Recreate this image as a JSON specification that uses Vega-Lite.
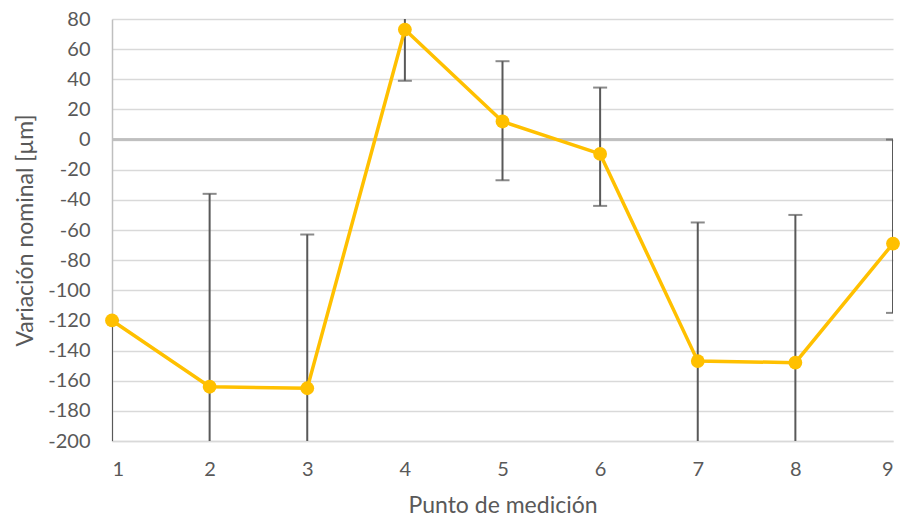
{
  "$schema": "https://vega.github.io/schema/vega-lite/v6.json",
  "width": 781,
  "height": 422,
  "autosize": {"type": "none"},
  "padding": {"left": 112, "top": 19, "right": 7, "bottom": 84},
  "background": "white",
  "config": {
    "view": {"stroke": null},
    "font": "Lato",
    "axis": {"labelColor": "#595959", "titleColor": "#595959", "labelFont": "Lato", "titleFont": "Lato", "titleFontWeight": "normal", "labelOverlap": false},
    "axisY": {
      "values": [-200,-180,-160,-140,-120,-100,-80,-60,-40,-20,0,20,40,60,80],
      "labelExpr": "'' + datum.value", "labelOverlap": false, "labelBound": false,
      "grid": true, "gridColor": "#d9d9d9", "gridWidth": 1.5, "ticks": false,
      "domain": true, "domainColor": "#bfbfbf", "domainWidth": 1.5,
      "labelFontSize": 20, "labelPadding": 22, "titleFontSize": 23, "titlePadding": 10
    }
  },
  "data": {
    "values": [
      {"p": 1, "v": -120, "lo": -300, "hi": -120},
      {"p": 2, "v": -164, "lo": -292, "hi": -36},
      {"p": 3, "v": -165, "lo": -267, "hi": -63},
      {"p": 4, "v": 73, "lo": 39, "hi": 107},
      {"p": 5, "v": 12, "lo": -27, "hi": 52},
      {"p": 6, "v": -9.5, "lo": -44, "hi": 34.5},
      {"p": 7, "v": -147, "lo": -239, "hi": -55},
      {"p": 8, "v": -148, "lo": -246, "hi": -50},
      {"p": 9, "v": -69, "lo": -115, "hi": 0}
    ]
  },
  "encoding": {
    "x": {
      "field": "p", "type": "quantitative",
      "scale": {"domain": [1, 9], "nice": false, "zero": false},
      "axis": {
        "title": "Punto de medición", "values": [1,2,3,4,5,6,7,8,9], "format": "d",
        "grid": false, "ticks": false, "domain": true, "domainColor": "#d9d9d9", "domainWidth": 1.5,
        "labelFontSize": 20, "labelPadding": 18, "labelOverlap": false, "titleFontSize": 23, "titlePadding": 15
      }
    }
  },
  "layer": [
    {
      "mark": {"type": "rule", "color": "#bfbfbf", "strokeWidth": 1.5},
      "encoding": {
        "x": null,
        "y": {"datum": 0, "type": "quantitative",
          "scale": {"domain": [-200, 80], "nice": false, "zero": false},
          "axis": {"title": "Variación nominal [µm]", "values": [-200,-180,-160,-140,-120,-100,-80,-60,-40,-20,0,20,40,60,80]}
        }
      }
    },
    {
      "mark": {"type": "rule", "color": "#595959", "strokeWidth": 2, "clip": true},
      "encoding": {
        "y": {"field": "lo", "type": "quantitative", "axis": {"title": "Variación nominal [µm]", "values": [-200,-180,-160,-140,-120,-100,-80,-60,-40,-20,0,20,40,60,80]}},
        "y2": {"field": "hi"}
      }
    },
    {
      "mark": {"type": "tick", "orient": "horizontal", "color": "#595959", "size": 14, "thickness": 2, "clip": true},
      "encoding": {"y": {"field": "hi", "type": "quantitative", "axis": {"title": "Variación nominal [µm]", "values": [-200,-180,-160,-140,-120,-100,-80,-60,-40,-20,0,20,40,60,80]}}}
    },
    {
      "mark": {"type": "tick", "orient": "horizontal", "color": "#595959", "size": 14, "thickness": 2, "clip": true},
      "encoding": {"y": {"field": "lo", "type": "quantitative", "axis": {"title": "Variación nominal [µm]", "values": [-200,-180,-160,-140,-120,-100,-80,-60,-40,-20,0,20,40,60,80]}}}
    },
    {
      "mark": {"type": "line", "color": "#FFC000", "strokeWidth": 3.5,
        "point": {"filled": true, "color": "#FFC000", "size": 190, "opacity": 1}},
      "encoding": {"y": {"field": "v", "type": "quantitative", "axis": {"title": "Variación nominal [µm]", "values": [-200,-180,-160,-140,-120,-100,-80,-60,-40,-20,0,20,40,60,80]}}}
    }
  ]
}
